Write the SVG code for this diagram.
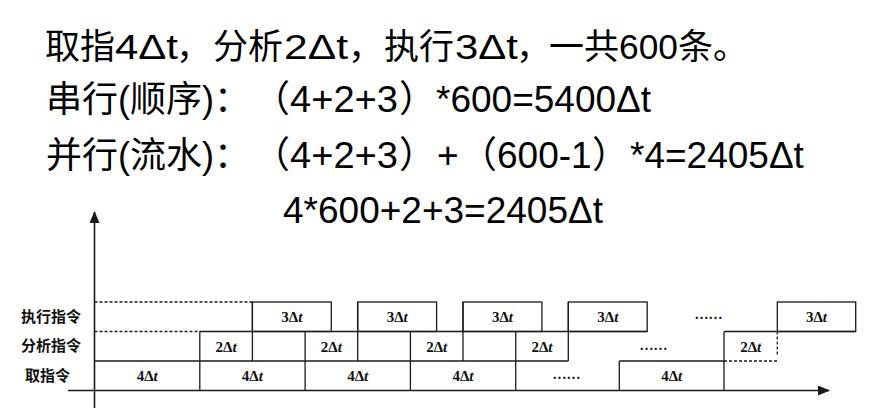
<svg xmlns="http://www.w3.org/2000/svg" width="874" height="417" viewBox="0 0 874 417">
<defs>
<style>
.t { font-family: "Liberation Sans", "Noto Sans CJK SC", sans-serif; font-size: 37px; fill: #000; }
.t1 { font-family: "Liberation Sans", "Noto Sans CJK SC", sans-serif; font-size: 35px; fill: #000; }
.cj { font-size: 36px; }
.lab { font-family: "Noto Sans CJK SC", sans-serif; font-size: 15px; font-weight: bold; fill: #111; }
.bx { font-family: "Liberation Serif", "Times New Roman", serif; font-size: 15px; font-weight: bold; fill: #111; text-anchor: middle; }
.it { font-style: italic; }
.dots { font-family: "Liberation Serif", serif; font-size: 14px; font-weight: bold; fill: #111; }
.ln { stroke: #1a1a1a; stroke-width: 1.3; fill: none; }
.ax { stroke: #1a1a1a; stroke-width: 1.6; fill: none; }
.ds { stroke: #1a1a1a; stroke-width: 1.3; fill: none; stroke-dasharray: 3 2; }
</style>
<marker id="arr" viewBox="0 0 12 10" refX="11" refY="5" markerWidth="12" markerHeight="10" markerUnits="userSpaceOnUse" orient="auto">
<path d="M0,0 L12,5 L0,10 Z" fill="#1a1a1a"/>
</marker>
</defs>
<rect width="874" height="417" fill="#fff"/>

<g id="formulas">
<text class="t1" y="59"><tspan x="45">取指</tspan><tspan x="115" textLength="63" lengthAdjust="spacingAndGlyphs">4Δt</tspan><tspan x="176">，</tspan><tspan x="213">分析</tspan><tspan x="284" textLength="64" lengthAdjust="spacingAndGlyphs">2Δt</tspan><tspan x="348">，</tspan><tspan x="384">执行</tspan><tspan x="455" textLength="63" lengthAdjust="spacingAndGlyphs">3Δt</tspan><tspan x="516">，</tspan><tspan x="549">一共</tspan><tspan x="619" textLength="59" lengthAdjust="spacingAndGlyphs">600</tspan><tspan x="678">条。</tspan></text>
<text class="t" y="112"><tspan class="cj" x="46">串行(顺序)：</tspan><tspan x="253">（</tspan><tspan x="290" textLength="108" lengthAdjust="spacingAndGlyphs">4+2+3</tspan><tspan x="399">）</tspan><tspan x="436">*600=5400Δt</tspan></text>
<text class="t" y="168"><tspan class="cj" x="46">并行(流水)：</tspan><tspan x="253">（</tspan><tspan x="290" textLength="108" lengthAdjust="spacingAndGlyphs">4+2+3</tspan><tspan x="399">）</tspan><tspan x="437">+</tspan><tspan x="460">（</tspan><tspan x="497">600-1</tspan><tspan x="592">）</tspan><tspan x="630">*4=2405Δt</tspan></text>
<text class="t" x="283" y="223">4*600+2+3=2405Δt</text>
</g>

<g id="row-labels">
<text class="lab" x="21" y="322">执行指令</text>
<text class="lab" x="21" y="351">分析指令</text>
<text class="lab" x="25" y="381">取指令</text>
</g>

<g id="axes">
<line class="ax" x1="94.5" y1="408" x2="94.5" y2="212" marker-end="url(#arr)"/>
<line class="ax" x1="68" y1="390.5" x2="829" y2="390.5" marker-end="url(#arr)"/>
</g>

<g id="connectors">
<line class="ds" x1="94.5" y1="302" x2="252.4" y2="302"/>
<line class="ds" x1="94.5" y1="331.5" x2="199.8" y2="331.5"/>
<line class="ln" x1="94.5" y1="361" x2="568.3" y2="361"/>
<line class="ln" x1="199.8" y1="331.5" x2="647.2" y2="331.5"/>
<line class="ln" x1="199.8" y1="331.5" x2="199.8" y2="390.5"/>
<line class="ln" x1="305.1" y1="331.5" x2="305.1" y2="390.5"/>
<line class="ln" x1="410.4" y1="331.5" x2="410.4" y2="390.5"/>
<line class="ln" x1="515.7" y1="331.5" x2="515.7" y2="390.5"/>
<line class="ln" x1="252.4" y1="302" x2="252.4" y2="361"/>
<line class="ln" x1="357.7" y1="302" x2="357.7" y2="361"/>
<line class="ln" x1="463" y1="302" x2="463" y2="361"/>
<line class="ln" x1="568.3" y1="302" x2="568.3" y2="361"/>
<rect class="ln" x="252.4" y="302" width="78.9" height="29.5"/>
<rect class="ln" x="357.7" y="302" width="78.9" height="29.5"/>
<rect class="ln" x="463" y="302" width="78.9" height="29.5"/>
<rect class="ln" x="568.3" y="302" width="78.9" height="29.5"/>
<line class="ln" x1="619.3" y1="390.5" x2="619.3" y2="361"/>
<line class="ln" x1="619.3" y1="361" x2="724" y2="361"/>
<line class="ds" x1="724" y1="361" x2="777.3" y2="361"/>
<line class="ln" x1="724" y1="331.5" x2="724" y2="390.5"/>
<line class="ln" x1="724" y1="331.5" x2="855.7" y2="331.5"/>
<rect class="ln" x="777.3" y="302" width="78.4" height="29.5"/>
<line class="ds" x1="777.3" y1="331.5" x2="777.3" y2="356"/>
</g>

<g id="box-labels">
<text class="bx" x="291.9" y="322">3Δ<tspan class="it">t</tspan></text>
<text class="bx" x="397.2" y="322">3Δ<tspan class="it">t</tspan></text>
<text class="bx" x="502.5" y="322">3Δ<tspan class="it">t</tspan></text>
<text class="bx" x="607.8" y="322">3Δ<tspan class="it">t</tspan></text>
<text class="bx" x="816.5" y="322">3Δ<tspan class="it">t</tspan></text>

<text class="bx" x="226.1" y="351.5">2Δ<tspan class="it">t</tspan></text>
<text class="bx" x="331.4" y="351.5">2Δ<tspan class="it">t</tspan></text>
<text class="bx" x="436.7" y="351.5">2Δ<tspan class="it">t</tspan></text>
<text class="bx" x="542" y="351.5">2Δ<tspan class="it">t</tspan></text>
<text class="bx" x="750.7" y="351.5">2Δ<tspan class="it">t</tspan></text>

<text class="bx" x="147.2" y="381">4Δ<tspan class="it">t</tspan></text>
<text class="bx" x="252.4" y="381">4Δ<tspan class="it">t</tspan></text>
<text class="bx" x="357.7" y="381">4Δ<tspan class="it">t</tspan></text>
<text class="bx" x="463" y="381">4Δ<tspan class="it">t</tspan></text>
<text class="bx" x="671.7" y="381">4Δ<tspan class="it">t</tspan></text>

<text class="dots" x="553" y="379" textLength="27" lengthAdjust="spacing">......</text>
<text class="dots" x="640" y="350" textLength="27" lengthAdjust="spacing">......</text>
<text class="dots" x="695" y="319" textLength="27" lengthAdjust="spacing">......</text>
</g>
</svg>
